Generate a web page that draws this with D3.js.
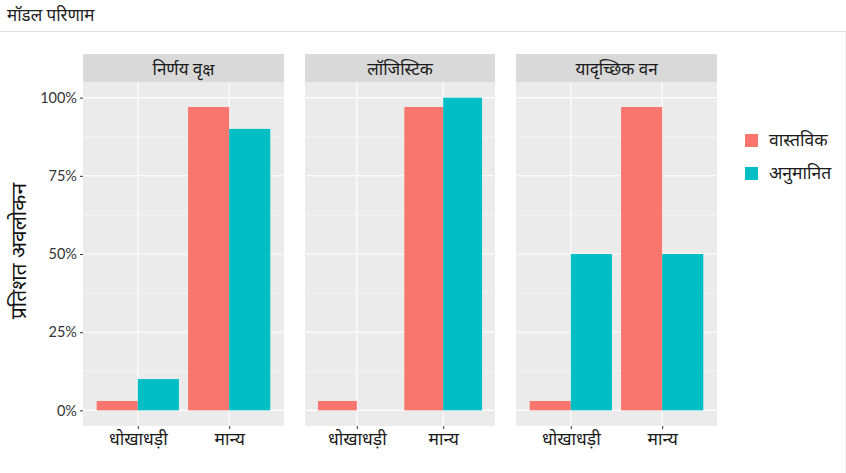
<!DOCTYPE html>
<html>
<head>
<meta charset="utf-8">
<script src="https://cdn.jsdelivr.net/npm/d3@7"></script>
<style>
  body { margin: 0; background: #fff; }
  svg { display: block; font-family: Lato, "Noto Sans", sans-serif; }
</style>
</head>
<body>
<svg id="chart" width="846" height="473"></svg>
<script>
'use strict';

const models = ['निर्णय वृक्ष', 'लॉजिस्टिक', 'यादृच्छिक वन'];
const classes = ['धोखाधड़ी', 'मान्य'];
const seriesNames = ['वास्तविक', 'अनुमानित'];
const actualValues = [[0.03, 0.97], [0.03, 0.97], [0.03, 0.97]];
const predictedValues = [[0.10, 0.90], [0.00, 1.00], [0.50, 0.50]];
const yTicks = [0, 0.25, 0.5, 0.75, 1];
const yMinor = [0.125, 0.375, 0.625, 0.875];

const colors = ['#F8766D', '#00BFC4'];
const panelX = [[83, 284], [305, 495], [516, 717]];
const panelTop = 82, panelBottom = 426;

const svg = d3.select('#chart');

// header
svg.append('text').attr('x', 7).attr('y', 21).attr('font-size', 17).attr('fill', '#222')
  .text('मॉडल परिणाम');
svg.append('line').attr('x1', 0).attr('x2', 846).attr('y1', 31.5).attr('y2', 31.5)
  .attr('stroke', '#ddd');
svg.append('line').attr('x1', 845.5).attr('x2', 845.5).attr('y1', 32).attr('y2', 473)
  .attr('stroke', '#eee');

const y = d3.scaleLinear().domain([-0.05, 1.05]).range([panelBottom, panelTop]);

models.forEach((m, i) => {
  const [x0, x1] = panelX[i];
  // band = 0.9-wide dodge group centred on each class, 0.6 expansion at each side
  const x = d3.scaleBand().domain(classes).range([x0, x1]).paddingInner(0.1).paddingOuter(0.15);
  const g = svg.append('g');

  g.append('rect').attr('x', x0).attr('y', panelTop).attr('width', x1 - x0).attr('height', panelBottom - panelTop)
    .attr('fill', '#ebebeb');
  g.append('rect').attr('x', x0).attr('y', 54).attr('width', x1 - x0).attr('height', panelTop - 54)
    .attr('fill', '#d9d9d9');
  g.append('text').attr('x', (x0 + x1) / 2).attr('y', 75).attr('text-anchor', 'middle')
    .attr('font-size', 17).attr('fill', '#1a1a1a').text(m);

  g.selectAll('line.minor').data(yMinor).join('line')
    .attr('x1', x0).attr('x2', x1).attr('y1', d => y(d)).attr('y2', d => y(d))
    .attr('stroke', '#fff').attr('stroke-width', 0.5);
  g.selectAll('line.major').data(yTicks).join('line')
    .attr('x1', x0).attr('x2', x1).attr('y1', d => y(d)).attr('y2', d => y(d))
    .attr('stroke', '#fff').attr('stroke-width', 1.1);
  g.selectAll('line.vx').data(classes).join('line')
    .attr('x1', d => x(d) + x.bandwidth() / 2).attr('x2', d => x(d) + x.bandwidth() / 2)
    .attr('y1', panelTop).attr('y2', panelBottom)
    .attr('stroke', '#fff').attr('stroke-width', 1.1);

  const sub = d3.scaleBand().domain(seriesNames).range([0, x.bandwidth()]);
  const rows = [];
  classes.forEach((c, ci) => {
    rows.push({ c, s: seriesNames[0], v: actualValues[i][ci] });
    rows.push({ c, s: seriesNames[1], v: predictedValues[i][ci] });
  });
  g.selectAll('rect.bar').data(rows).join('rect')
    .attr('x', d => x(d.c) + sub(d.s)).attr('width', sub.bandwidth())
    .attr('y', d => y(d.v)).attr('height', d => y(0) - y(d.v))
    .attr('fill', d => colors[seriesNames.indexOf(d.s)]);

  // x axis
  const xp = d3.scalePoint().domain(classes)
    .range([x(classes[0]) + x.bandwidth() / 2, x(classes[1]) + x.bandwidth() / 2]);
  const xa = svg.append('g').attr('transform', `translate(0,${panelBottom})`)
    .call(d3.axisBottom(xp).tickSize(3).tickPadding(4));
  xa.select('.domain').remove();
  xa.selectAll('line').attr('stroke', '#333');
  xa.selectAll('text').attr('font-size', 17.5).attr('fill', '#1a1a1a')
    .attr('font-family', 'Lato, "Noto Sans", sans-serif');
});

// y axis
const ya = svg.append('g').attr('transform', `translate(${panelX[0][0]},0)`)
  .call(d3.axisLeft(y).tickValues(yTicks).tickFormat(d3.format('.0%')).tickSize(3).tickPadding(3));
ya.select('.domain').remove();
ya.selectAll('line').attr('stroke', '#333');
ya.selectAll('text').attr('font-size', 14.5).attr('fill', '#333')
  .attr('font-family', 'Lato, "Noto Sans", sans-serif');

svg.append('text').attr('transform', `translate(26,${(panelTop + panelBottom) / 2 - 3}) rotate(-90)`)
  .attr('text-anchor', 'middle').attr('font-size', 21).attr('fill', '#111').text('प्रतिशत अवलोकन');

// legend
const lg = svg.append('g').attr('transform', 'translate(745,134)');
seriesNames.forEach((s, k) => {
  lg.append('rect').attr('x', 0).attr('y', k * 33).attr('width', 13).attr('height', 13).attr('fill', colors[k]);
  lg.append('text').attr('x', 24).attr('y', k * 33 + 12).attr('font-size', 17.5).attr('fill', '#1a1a1a').text(s);
});
</script>
</body>
</html>
